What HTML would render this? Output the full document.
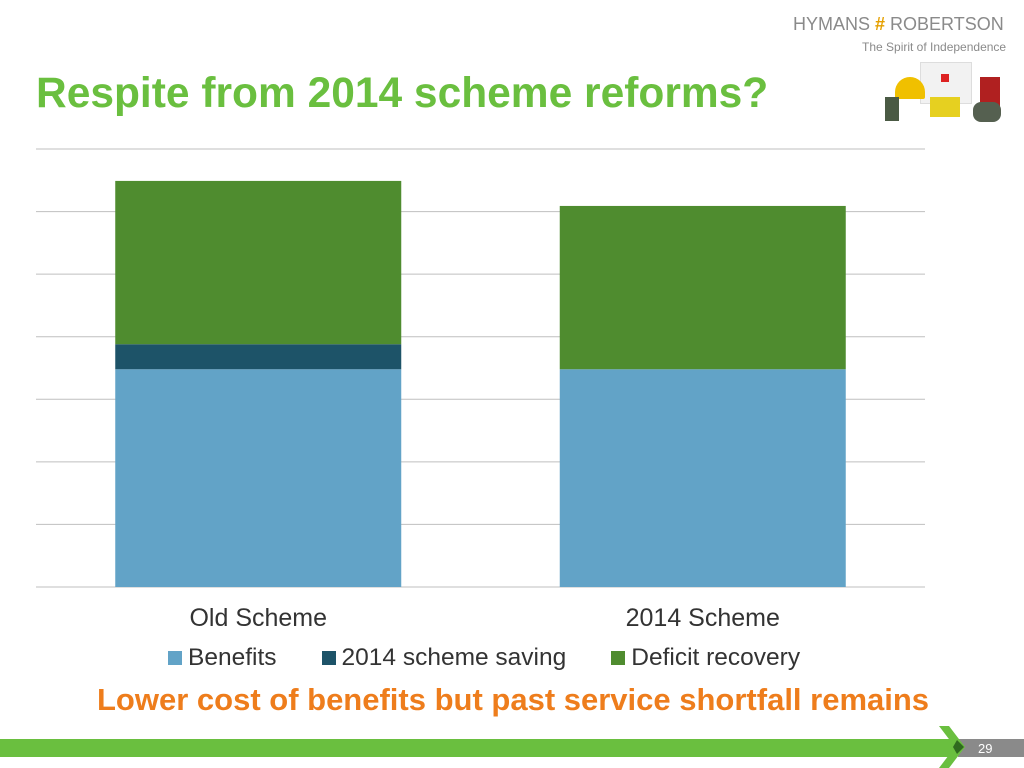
<!DOCTYPE html>
<html><head><meta charset="utf-8"><style>
body{margin:0;width:1024px;height:768px;background:#fff;position:relative;overflow:hidden;font-family:"Liberation Sans",Arial,sans-serif}
.abs{position:absolute;white-space:nowrap}
</style></head><body>
<div class="abs" style="left:36px;top:70px;font-size:42.5px;font-weight:bold;color:#6abf3f">Respite from 2014 scheme reforms?</div>
<div class="abs" style="left:793px;top:14px;font-size:18px;color:#8a8a8a">HYMANS <span style="color:#e5a000;font-weight:bold">#</span> ROBERTSON</div>
<div class="abs" style="left:862px;top:40px;font-size:12px;color:#8a8a8a">The Spirit of Independence</div>
<div class="abs" style="left:885px;top:62px;width:120px;height:62px">
<div class="abs" style="left:35px;top:0;width:50px;height:40px;background:#f2f2f2;border:1px solid #ddd"></div>
<div class="abs" style="left:56px;top:12px;width:8px;height:8px;background:#d22"></div>
<div class="abs" style="left:10px;top:15px;width:30px;height:22px;background:#f0c000;border-radius:15px 15px 2px 2px"></div>
<div class="abs" style="left:0;top:35px;width:14px;height:24px;background:#4a5a44"></div>
<div class="abs" style="left:45px;top:35px;width:30px;height:20px;background:#e6d020"></div>
<div class="abs" style="left:95px;top:15px;width:20px;height:30px;background:#b02020"></div>
<div class="abs" style="left:88px;top:40px;width:28px;height:20px;background:#556050;border-radius:8px"></div>
</div>
<svg class="abs" style="left:0;top:0" width="1024" height="768">
<g id="grid"></g><g id="bars"></g><g id="xl"></g>
</svg>
<div class="abs" style="left:168px;top:644px;font-size:24.5px;color:#333;display:flex;align-items:center">
<span style="width:14px;height:14px;background:#62a3c7;margin-right:6px"></span><span style="margin-right:45px">Benefits</span>
<span style="width:14px;height:14px;background:#1d5368;margin-right:6px"></span><span style="margin-right:45px">2014 scheme saving</span>
<span style="width:14px;height:14px;background:#4f8c2f;margin-right:6px"></span><span>Deficit recovery</span>
</div>
<div class="abs" style="left:97px;top:682px;font-size:31px;font-weight:bold;color:#ee7d1c">Lower cost of benefits but past service shortfall remains</div>
<div class="abs" style="left:0;top:739px;width:955px;height:18px;background:#6abf3f"></div>
<div class="abs" style="left:958px;top:739px;width:66px;height:18px;background:#8a8a8a"></div>
<svg class="abs" style="left:935px;top:726px" width="32" height="42"><polygon points="4,0 20,21 4,42 14,42 30,21 14,0" fill="#6abf3f"/><polygon points="22,14 29,21 22,28 18,21" fill="#2f6a1f"/></svg>
<div class="abs" style="left:978px;top:741px;font-size:13px;color:#fff">29</div>
<script>
const categories=["Old Scheme","2014 Scheme"];
const benefits=[3.48,3.48];
const saving=[0.40,0];
const deficit=[2.61,2.61];
const yTicks=[0,1,2,3,4,5,6,7];
const colors=["#62a3c7","#1d5368","#4f8c2f"];
const names=["benefits","saving","deficit"];
const NS="http://www.w3.org/2000/svg";
const x0=36,x1=925,y0=587,yTop=149,yMax=7;
const y=v=>y0-(v/yMax)*(y0-yTop);
const band=(x1-x0)/categories.length, bw=286;
const g=document.getElementById('grid'),b=document.getElementById('bars'),xl=document.getElementById('xl');
yTicks.forEach(t=>{const l=document.createElementNS(NS,'line');


l.setAttribute('x1',x0);l.setAttribute('x2',x1);l.setAttribute('y1',y(t));l.setAttribute('y2',y(t));l.setAttribute('stroke','#bfbfbf');l.setAttribute('stroke-width','1');g.appendChild(l);});
categories.forEach((c,i)=>{const cx=x0+band*(i+0.5);let base=0;
[benefits,saving,deficit].forEach((s,k)=>{const v=s[i];if(v>0){const r=document.createElementNS(NS,'rect');


r.setAttribute('x',cx-bw/2);r.setAttribute('width',bw);r.setAttribute('y',y(base+v));r.setAttribute('height',y(base)-y(base+v));r.setAttribute('fill',colors[k]);b.appendChild(r);}base+=v;});
const t=document.createElementNS(NS,'text');


t.setAttribute('x',cx);t.setAttribute('y',626);t.setAttribute('text-anchor','middle');t.setAttribute('font-size','25');t.setAttribute('fill','#333');t.textContent=c;xl.appendChild(t);});
</script>
</body></html>
